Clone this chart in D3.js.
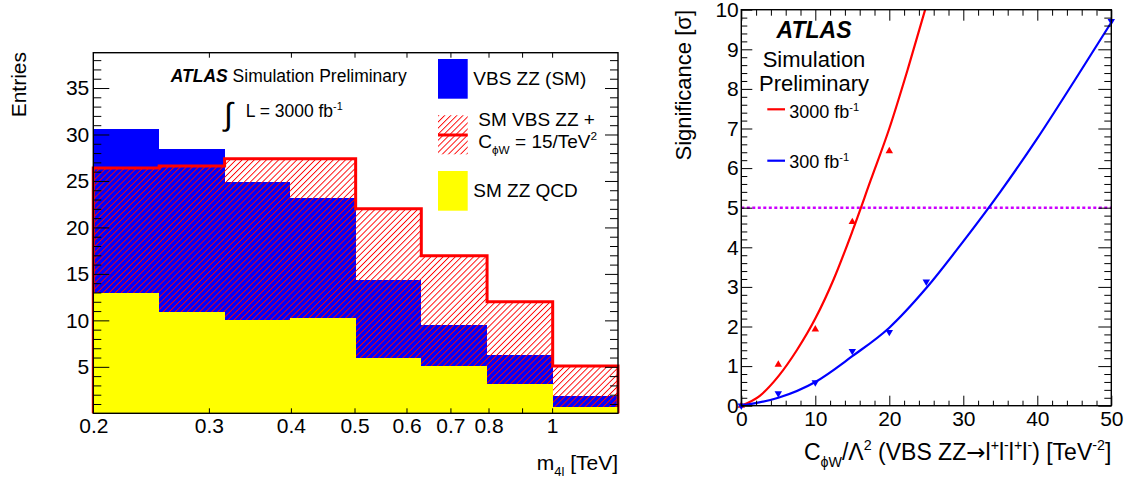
<!DOCTYPE html>
<html>
<head>
<meta charset="utf-8">
<script src="https://cdn.jsdelivr.net/npm/d3@7"></script>
<style>
  body { margin: 0; background: #fff; }
  svg { display: block; }
  text { font-family: "Liberation Sans", Arial, Helvetica, sans-serif; fill: #000; }
</style>
</head>
<body>
<svg id="chart" width="1132" height="484"></svg>
<script>
// ---------- m4l distribution (left) ----------
const binEdges = [0.2, 0.252, 0.317, 0.399, 0.502, 0.632, 0.796, 1.002, 1.26];
const qcdZZ = [12.9, 10.9, 10.05, 10.3, 5.9, 5.1, 3.1, 0.7];          // SM ZZ QCD
const vbsSMStack = [30.6, 28.4, 24.9, 23.2, 14.3, 9.5, 6.3, 1.85];     // + VBS ZZ (SM)
const vbsCphiWStack = [26.4, 26.6, 27.4, 27.4, 22.0, 16.95, 12.0, 5.1]; // + SM VBS ZZ with C_phiW = 15/TeV^2
const entriesMax = 38.8;
const entriesMajor = [5, 10, 15, 20, 25, 30, 35];
const massTicks = [0.3, 0.4, 0.5, 0.6, 0.7, 0.8, 0.9, 1];
const massLabels = [0.2, 0.3, 0.4, 0.5, 0.6, 0.7, 0.8, 1];

// ---------- significance vs C_phiW (right) ----------
const cphiw3000 = [0, 5, 10, 15, 20];
const sig3000 = [0, 1.04, 1.93, 4.64, 6.43];
const cphiw300 = [0, 5, 10, 15, 20, 25, 50];
const sig300 = [0, 0.31, 0.59, 1.38, 1.86, 3.13, 9.71];
const fit3000X = [0, 2.5, 5, 7.5, 10, 12.5, 15, 17.5, 20, 22.5, 25];
const fit3000Y = [0, 0.25, 0.74, 1.4, 2.2, 3.2, 4.4, 5.7, 7.0, 8.5, 10.1];
const fit300X = [0, 5, 10, 15, 20, 25, 30, 35, 40, 45, 50];
const fit300Y = [0, 0.2, 0.6, 1.25, 1.97, 2.97, 4.15, 5.4, 6.75, 8.2, 9.68];
const discoveryLevel = 5;
const cphiwMajor = [0, 10, 20, 30, 40, 50];
const sigMajor = [0, 1, 2, 3, 4, 5, 6, 7, 8, 9, 10];

const RED = "#ff0000", BLUE = "#0000ff", YELLOW = "#ffff00", VIOLET = "#cc00ff";
const svg = d3.select("#chart");
const defs = svg.append("defs");

// red "/" hatching
const hatch = defs.append("pattern")
  .attr("id", "hatch").attr("patternUnits", "userSpaceOnUse")
  .attr("width", 4.3).attr("height", 4.3)
  .attr("patternTransform", "rotate(45)");
hatch.append("rect").attr("x", 0).attr("y", 0).attr("width", 0.9).attr("height", 4.3)
  .style("fill", RED);

// text with sub/superscripts
function rich(sel, parts, size) {
  let shift = 0;
  parts.forEach(p => {
    const target = p.s === "sup" ? -size * 0.42 : p.s === "sub" ? size * 0.3 : 0;
    const fs = p.s ? size * 0.62 : size;
    const ts = sel.append("tspan").attr("dy", target - shift).attr("font-size", fs).text(p.t);
    if (p.f) ts.style("font-family", p.f);
    shift = target;
  });
  return sel;
}

function styleAxis(g, size) {
  g.select(".domain").remove();
  g.selectAll("line").attr("stroke", "#000").attr("stroke-width", 1);
  g.selectAll("text").attr("font-size", size)
    .attr("font-family", '"Liberation Sans", Arial, Helvetica, sans-serif');
}

// =================== LEFT PANEL ===================
const L = { left: 93.3, right: 618, top: 52.7, bottom: 413.3 };
const xM = d3.scaleLog().domain([binEdges[0], binEdges[binEdges.length - 1]]).range([L.left, L.right]);
const yE = d3.scaleLinear().domain([0, entriesMax]).range([L.bottom, L.top]);
const bins = qcdZZ.map((q, i) => ({ x0: binEdges[i], x1: binEdges[i + 1], q, sm: vbsSMStack[i], cw: vbsCphiWStack[i] }));

const left = svg.append("g");
left.selectAll("rect.sm").data(bins).join("rect").attr("class", "sm")
  .attr("x", d => xM(d.x0)).attr("width", d => xM(d.x1) - xM(d.x0))
  .attr("y", d => yE(d.sm)).attr("height", d => yE(0) - yE(d.sm))
  .attr("fill", BLUE).attr("shape-rendering", "crispEdges");
left.selectAll("rect.cw").data(bins).join("rect").attr("class", "cw")
  .attr("x", d => xM(d.x0)).attr("width", d => xM(d.x1) - xM(d.x0))
  .attr("y", d => yE(d.cw)).attr("height", d => yE(0) - yE(d.cw))
  .style("fill", "url(#hatch)");
// outline of the C_phiW histogram
let stepD = `M${xM(binEdges[0])},${yE(0)}`;
bins.forEach(d => { stepD += `V${yE(d.cw)}H${xM(d.x1)}`; });
stepD += `V${yE(0)}`;
left.append("path").attr("d", stepD).attr("fill", "none")
  .attr("stroke", RED).attr("stroke-width", 3);
left.selectAll("rect.qcd").data(bins).join("rect").attr("class", "qcd")
  .attr("x", d => xM(d.x0)).attr("width", d => xM(d.x1) - xM(d.x0))
  .attr("y", d => yE(d.q)).attr("height", d => yE(0) - yE(d.q))
  .attr("fill", YELLOW).attr("shape-rendering", "crispEdges");

// frame
left.append("rect").attr("x", L.left).attr("y", L.top)
  .attr("width", L.right - L.left).attr("height", L.bottom - L.top)
  .attr("fill", "none").attr("stroke", "#000").attr("stroke-width", 1.4);

const entriesMinor = d3.range(1, 39).filter(v => v % 5 !== 0);
// y axis (left edge, ticks inward)
left.append("g").attr("transform", `translate(${L.left},0)`)
  .call(d3.axisLeft(yE).tickValues(entriesMajor).tickSize(-16).tickPadding(4).tickFormat(d3.format("d")))
  .call(g => styleAxis(g, 21));
left.append("g").attr("transform", `translate(${L.left},0)`)
  .call(d3.axisLeft(yE).tickValues(entriesMinor).tickSize(-8).tickFormat(""))
  .call(g => styleAxis(g, 21));
// mirrored ticks on the right edge
left.append("g").attr("transform", `translate(${L.right},0)`)
  .call(d3.axisRight(yE).tickValues(entriesMajor).tickSize(-13).tickFormat(""))
  .call(g => styleAxis(g, 21));
left.append("g").attr("transform", `translate(${L.right},0)`)
  .call(d3.axisRight(yE).tickValues(entriesMinor).tickSize(-8).tickFormat(""))
  .call(g => styleAxis(g, 21));
// x axis (log)
left.append("g").attr("transform", `translate(0,${L.bottom})`)
  .call(d3.axisBottom(xM).tickValues(massTicks).tickSize(-5).tickFormat(""))
  .call(g => styleAxis(g, 21));
left.append("g").attr("transform", `translate(0,${L.bottom})`)
  .call(d3.axisBottom(xM).tickValues(massLabels).tickSize(0).tickPadding(5).tickFormat(d => String(d)))
  .call(g => styleAxis(g, 21));
left.append("g").attr("transform", `translate(0,${L.top})`)
  .call(d3.axisTop(xM).tickValues(massTicks).tickSize(-5).tickFormat(""))
  .call(g => styleAxis(g, 21));

// axis titles
left.append("text").attr("transform", "translate(26,52) rotate(-90)")
  .attr("text-anchor", "end").attr("font-size", 21).text("Entries");
rich(left.append("text").attr("x", L.right).attr("y", 470).attr("text-anchor", "end"),
  [{ t: "m" }, { t: "4l", s: "sub" }, { t: " [TeV]" }], 21);

// ATLAS label
const atl = left.append("text").attr("x", 170.7).attr("y", 81.7).attr("font-size", 17.5);
atl.append("tspan").attr("font-weight", "bold").attr("font-style", "italic").text("ATLAS");
atl.append("tspan").text(" Simulation Preliminary");
left.append("text").attr("x", 224).attr("y", 125).attr("font-size", 32).text("∫");
rich(left.append("text").attr("x", 245.7).attr("y", 117.3),
  [{ t: "L = 3000 fb" }, { t: "-1", s: "sup" }], 17.5);

// legend
const lg = left.append("g");
lg.append("rect").attr("x", 438).attr("y", 59).attr("width", 29.7).attr("height", 39.7).attr("fill", BLUE);
lg.append("rect").attr("x", 438).attr("y", 115.3).attr("width", 29.7).attr("height", 39).style("fill", "url(#hatch)");
lg.append("line").attr("x1", 438).attr("x2", 467.7).attr("y1", 135).attr("y2", 135)
  .attr("stroke", RED).attr("stroke-width", 3);
lg.append("rect").attr("x", 438).attr("y", 171).attr("width", 29.7).attr("height", 39.7).attr("fill", YELLOW);
lg.append("text").attr("x", 473.3).attr("y", 85).attr("font-size", 19).text("VBS ZZ (SM)");
lg.append("text").attr("x", 478.3).attr("y", 126).attr("font-size", 19).text("SM VBS ZZ +");
rich(lg.append("text").attr("x", 478.3).attr("y", 148.3),
  [{ t: "C" }, { t: "ϕW", s: "sub" }, { t: " = 15/TeV" }, { t: "2", s: "sup" }], 19);
lg.append("text").attr("x", 473.3).attr("y", 197.3).attr("font-size", 19).text("SM ZZ QCD");

// =================== RIGHT PANEL ===================
const R = { left: 741.3, right: 1111.3, top: 9.7, bottom: 405.7 };
const xC = d3.scaleLinear().domain([0, 50]).range([R.left, R.right]);
const yS = d3.scaleLinear().domain([0, 10]).range([R.bottom, R.top]);
const right = svg.append("g");

defs.append("clipPath").attr("id", "plotclip").append("rect")
  .attr("x", R.left).attr("y", R.top).attr("width", R.right - R.left).attr("height", R.bottom - R.top);

right.append("line").attr("x1", xC(0)).attr("x2", xC(50))
  .attr("y1", yS(discoveryLevel)).attr("y2", yS(discoveryLevel))
  .attr("stroke", VIOLET).attr("stroke-width", 2.4).attr("stroke-dasharray", "3,2.5");

const fitLine = d3.line().x(d => xC(d[0])).y(d => yS(d[1])).curve(d3.curveMonotoneX);
right.append("path").attr("clip-path", "url(#plotclip)")
  .attr("d", fitLine(fit3000X.map((x, i) => [x, fit3000Y[i]])))
  .attr("fill", "none").attr("stroke", RED).attr("stroke-width", 2.2);
right.append("path").attr("clip-path", "url(#plotclip)")
  .attr("d", fitLine(fit300X.map((x, i) => [x, fit300Y[i]])))
  .attr("fill", "none").attr("stroke", BLUE).attr("stroke-width", 2.2);

const tri = d3.symbol().type(d3.symbolTriangle).size(24);
right.selectAll("path.p3000").data(cphiw3000.map((x, i) => [x, sig3000[i]])).join("path")
  .attr("class", "p3000").attr("d", tri)
  .attr("transform", d => `translate(${xC(d[0])},${yS(d[1])})`).attr("fill", RED);
right.selectAll("path.p300").data(cphiw300.map((x, i) => [x, sig300[i]])).join("path")
  .attr("class", "p300").attr("d", tri)
  .attr("transform", d => `translate(${xC(d[0])},${yS(d[1])}) rotate(180)`).attr("fill", BLUE);

right.append("rect").attr("x", R.left).attr("y", R.top)
  .attr("width", R.right - R.left).attr("height", R.bottom - R.top)
  .attr("fill", "none").attr("stroke", "#000").attr("stroke-width", 1.4);

const sigMinor = d3.range(1, 50).map(v => v / 5).filter(v => Math.abs(v - Math.round(v)) > 1e-6);
const cphiwMinor = d3.range(2, 50, 2).filter(v => v % 10 !== 0);
right.append("g").attr("transform", `translate(${R.left},0)`)
  .call(d3.axisLeft(yS).tickValues(sigMajor).tickSize(-11).tickPadding(2.5).tickFormat(d3.format("d")))
  .call(g => styleAxis(g, 21));
right.append("g").attr("transform", `translate(${R.left},0)`)
  .call(d3.axisLeft(yS).tickValues(sigMinor).tickSize(-6).tickFormat(""))
  .call(g => styleAxis(g, 21));
right.append("g").attr("transform", `translate(${R.right},0)`)
  .call(d3.axisRight(yS).tickValues(sigMajor).tickSize(-13).tickFormat(""))
  .call(g => styleAxis(g, 21));
right.append("g").attr("transform", `translate(${R.right},0)`)
  .call(d3.axisRight(yS).tickValues(sigMinor).tickSize(-7).tickFormat(""))
  .call(g => styleAxis(g, 21));
right.append("g").attr("transform", `translate(0,${R.bottom})`)
  .call(d3.axisBottom(xC).tickValues(cphiwMajor).tickSize(-10).tickPadding(5).tickFormat(d3.format("d")))
  .call(g => styleAxis(g, 21));
right.append("g").attr("transform", `translate(0,${R.bottom})`)
  .call(d3.axisBottom(xC).tickValues(cphiwMinor).tickSize(-5).tickFormat(""))
  .call(g => styleAxis(g, 21));
right.append("g").attr("transform", `translate(0,${R.top})`)
  .call(d3.axisTop(xC).tickValues(cphiwMajor).tickSize(-11).tickFormat(""))
  .call(g => styleAxis(g, 21));
right.append("g").attr("transform", `translate(0,${R.top})`)
  .call(d3.axisTop(xC).tickValues(cphiwMinor).tickSize(-6).tickFormat(""))
  .call(g => styleAxis(g, 21));

right.append("text").attr("transform", "translate(691,10) rotate(-90)")
  .attr("text-anchor", "end").attr("font-size", 22).text("Significance [σ]");
rich(right.append("text").attr("x", R.right).attr("y", 460).attr("text-anchor", "end"),
  [{ t: "C" }, { t: "ϕW", s: "sub" }, { t: "/Λ" }, { t: "2", s: "sup" }, { t: " (VBS ZZ" },
   { t: "→", f: '"DejaVu Sans"' }, { t: "l" },
   { t: "+", s: "sup" }, { t: "l" }, { t: "-", s: "sup" }, { t: "l" }, { t: "+", s: "sup" },
   { t: "l" }, { t: "-", s: "sup" }, { t: ") [TeV" }, { t: "-2", s: "sup" }, { t: "]" }], 23);

right.append("text").attr("x", 814).attr("y", 38).attr("text-anchor", "middle")
  .attr("font-size", 23).attr("font-weight", "bold").attr("font-style", "italic").text("ATLAS");
right.append("text").attr("x", 814).attr("y", 67).attr("text-anchor", "middle")
  .attr("font-size", 22).text("Simulation");
right.append("text").attr("x", 814).attr("y", 91).attr("text-anchor", "middle")
  .attr("font-size", 22).text("Preliminary");

right.append("line").attr("x1", 767.3).attr("x2", 785).attr("y1", 109.3).attr("y2", 109.3)
  .attr("stroke", RED).attr("stroke-width", 2.2);
rich(right.append("text").attr("x", 789.3).attr("y", 118.3), [{ t: "3000 fb" }, { t: "-1", s: "sup" }], 18);
right.append("line").attr("x1", 767.3).attr("x2", 785).attr("y1", 160.7).attr("y2", 160.7)
  .attr("stroke", BLUE).attr("stroke-width", 2.2);
rich(right.append("text").attr("x", 789.3).attr("y", 168.3), [{ t: "300 fb" }, { t: "-1", s: "sup" }], 18);
</script>
</body>
</html>
